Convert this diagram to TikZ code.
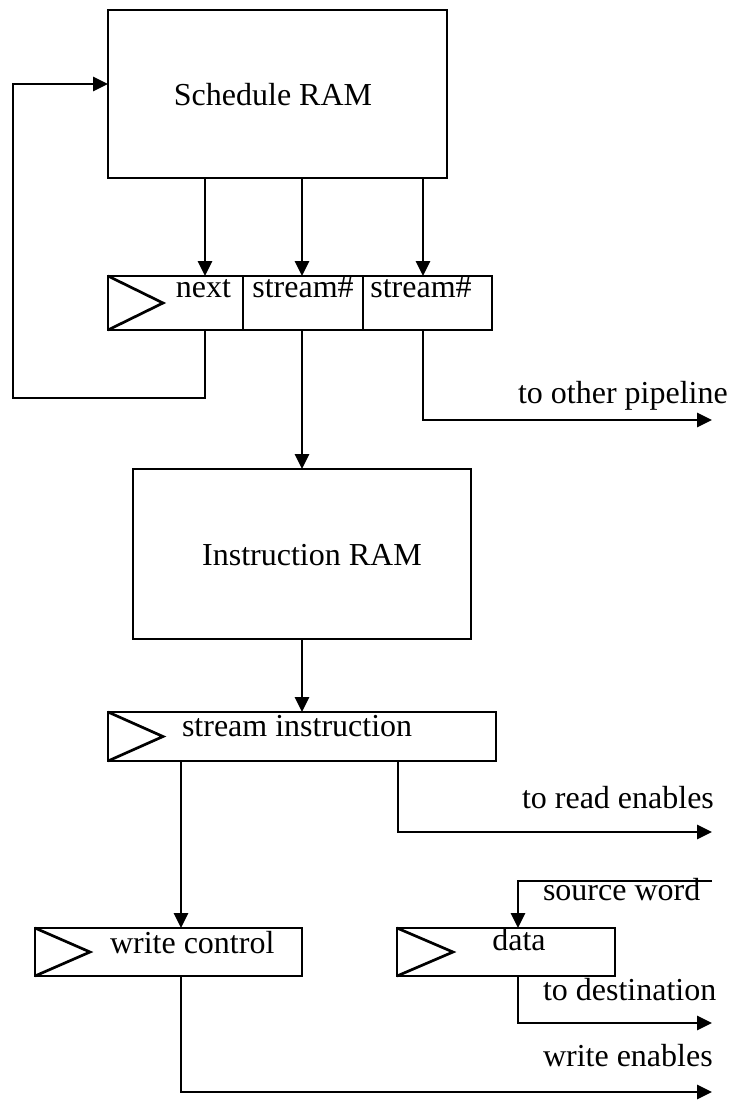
\documentclass[tikz,border=0pt]{standalone}
\usepackage{fontspec}
\setmainfont{Liberation Serif}
\usetikzlibrary{arrows.meta,calc}
\begin{document}
\begin{tikzpicture}[x=1pt,y=-1pt,
  every node/.style={inner sep=0pt,outer sep=0pt},
  blk/.style={draw,line width=2.7pt,rectangle},
  lbl/.style={font=\fontsize{32}{38}\selectfont},
  wire/.style={line width=2.7pt},
  arr/.style={wire,-{Triangle[length=15pt,width=14pt]}}]
\useasboundingbox (0,0) rectangle (737,1108);
% column coordinates
\coordinate (c1) at (205,0);
\coordinate (c2) at (302,0);
\coordinate (c3) at (423,0);
\coordinate (c4) at (181,0);
\coordinate (c5) at (398,0);
\coordinate (c6) at (518,0);
% blocks
\node[blk,minimum width=339pt,minimum height=168pt] (sched) at (277.5,94) {};
\node[blk,minimum width=384pt,minimum height=54pt] (reg1) at (300,303) {};
\node[blk,minimum width=338pt,minimum height=170pt] (iram) at (302,554) {};
\node[blk,minimum width=388pt,minimum height=49pt] (sireg) at (302,736.5) {};
\node[blk,minimum width=267pt,minimum height=48pt] (wc) at (168.5,952) {};
\node[blk,minimum width=218pt,minimum height=48pt] (data) at (506,952) {};
% register dividers and clock triangles
\draw[wire] (243,276) -- (243,330);
\draw[wire] (363,276) -- (363,330);
\draw[wire,line join=miter] (reg1.north west) -- ($(reg1.west)+(55,0)$) -- (reg1.south west);
\draw[wire,line join=miter] (sireg.north west) -- ($(sireg.west)+(55,0)$) -- (sireg.south west);
\draw[wire,line join=miter] (wc.north west) -- ($(wc.west)+(55,0)$) -- (wc.south west);
\draw[wire,line join=miter] (data.north west) -- ($(data.west)+(56,0)$) -- (data.south west);
% texts
\node[lbl,anchor=base] (tsched) at (273,105) {Schedule RAM};
\node[lbl,anchor=base] (tiram) at (312,565) {Instruction RAM};
\node[lbl,anchor=base east] (tnext) at (231,297) {next};
\node[lbl,anchor=base] (ts1) at (303,297) {stream\#};
\node[lbl,anchor=base] (ts2) at (421,297) {stream\#};
\node[lbl,anchor=base west] (tsi) at (182,736) {stream instruction};
\node[lbl,anchor=base west] (twc) at (110,953) {write control};
\node[lbl,anchor=base] (tdata) at (519,950) {data};
\node[lbl,anchor=base west] (tpipe) at (518,403) {to other pipeline};
\node[lbl,anchor=base west] (tread) at (522,808) {to read enables};
\node[lbl,anchor=base west] (tsrc) at (543,900) {source word};
\node[lbl,anchor=base west] (tdst) at (543,1000) {to destination};
\node[lbl,anchor=base west] (twe) at (543,1066) {write enables};
% free ends
\coordinate (fbl) at (13,398);
\coordinate (fbin) at ($(sched.west)+(0,-10)$);
\coordinate (pipe) at (712,420);
\coordinate (rd) at (712,832);
\coordinate (src) at (712,881);
\coordinate (dst) at (712,1023);
\coordinate (we) at (712,1092);
% connectors
\draw[arr] (sched.south -| c1) -- (reg1.north -| c1);
\draw[arr] (sched.south -| c2) -- (reg1.north -| c2);
\draw[arr] (sched.south -| c3) -- (reg1.north -| c3);
\draw[arr] (reg1.south -| c1) |- (fbl) |- (fbin);
\draw[arr] (reg1.south -| c2) -- (iram.north -| c2);
\draw[arr] (reg1.south -| c3) |- (pipe);
\draw[arr] (iram.south) -- (sireg.north);
\draw[arr] (sireg.south -| c4) -- (wc.north -| c4);
\draw[arr] (sireg.south -| c5) |- (rd);
\draw[arr] (src) -| (data.north -| c6);
\draw[arr] (data.south -| c6) |- (dst);
\draw[arr] (wc.south -| c4) |- (we);
\end{tikzpicture}
\end{document}
